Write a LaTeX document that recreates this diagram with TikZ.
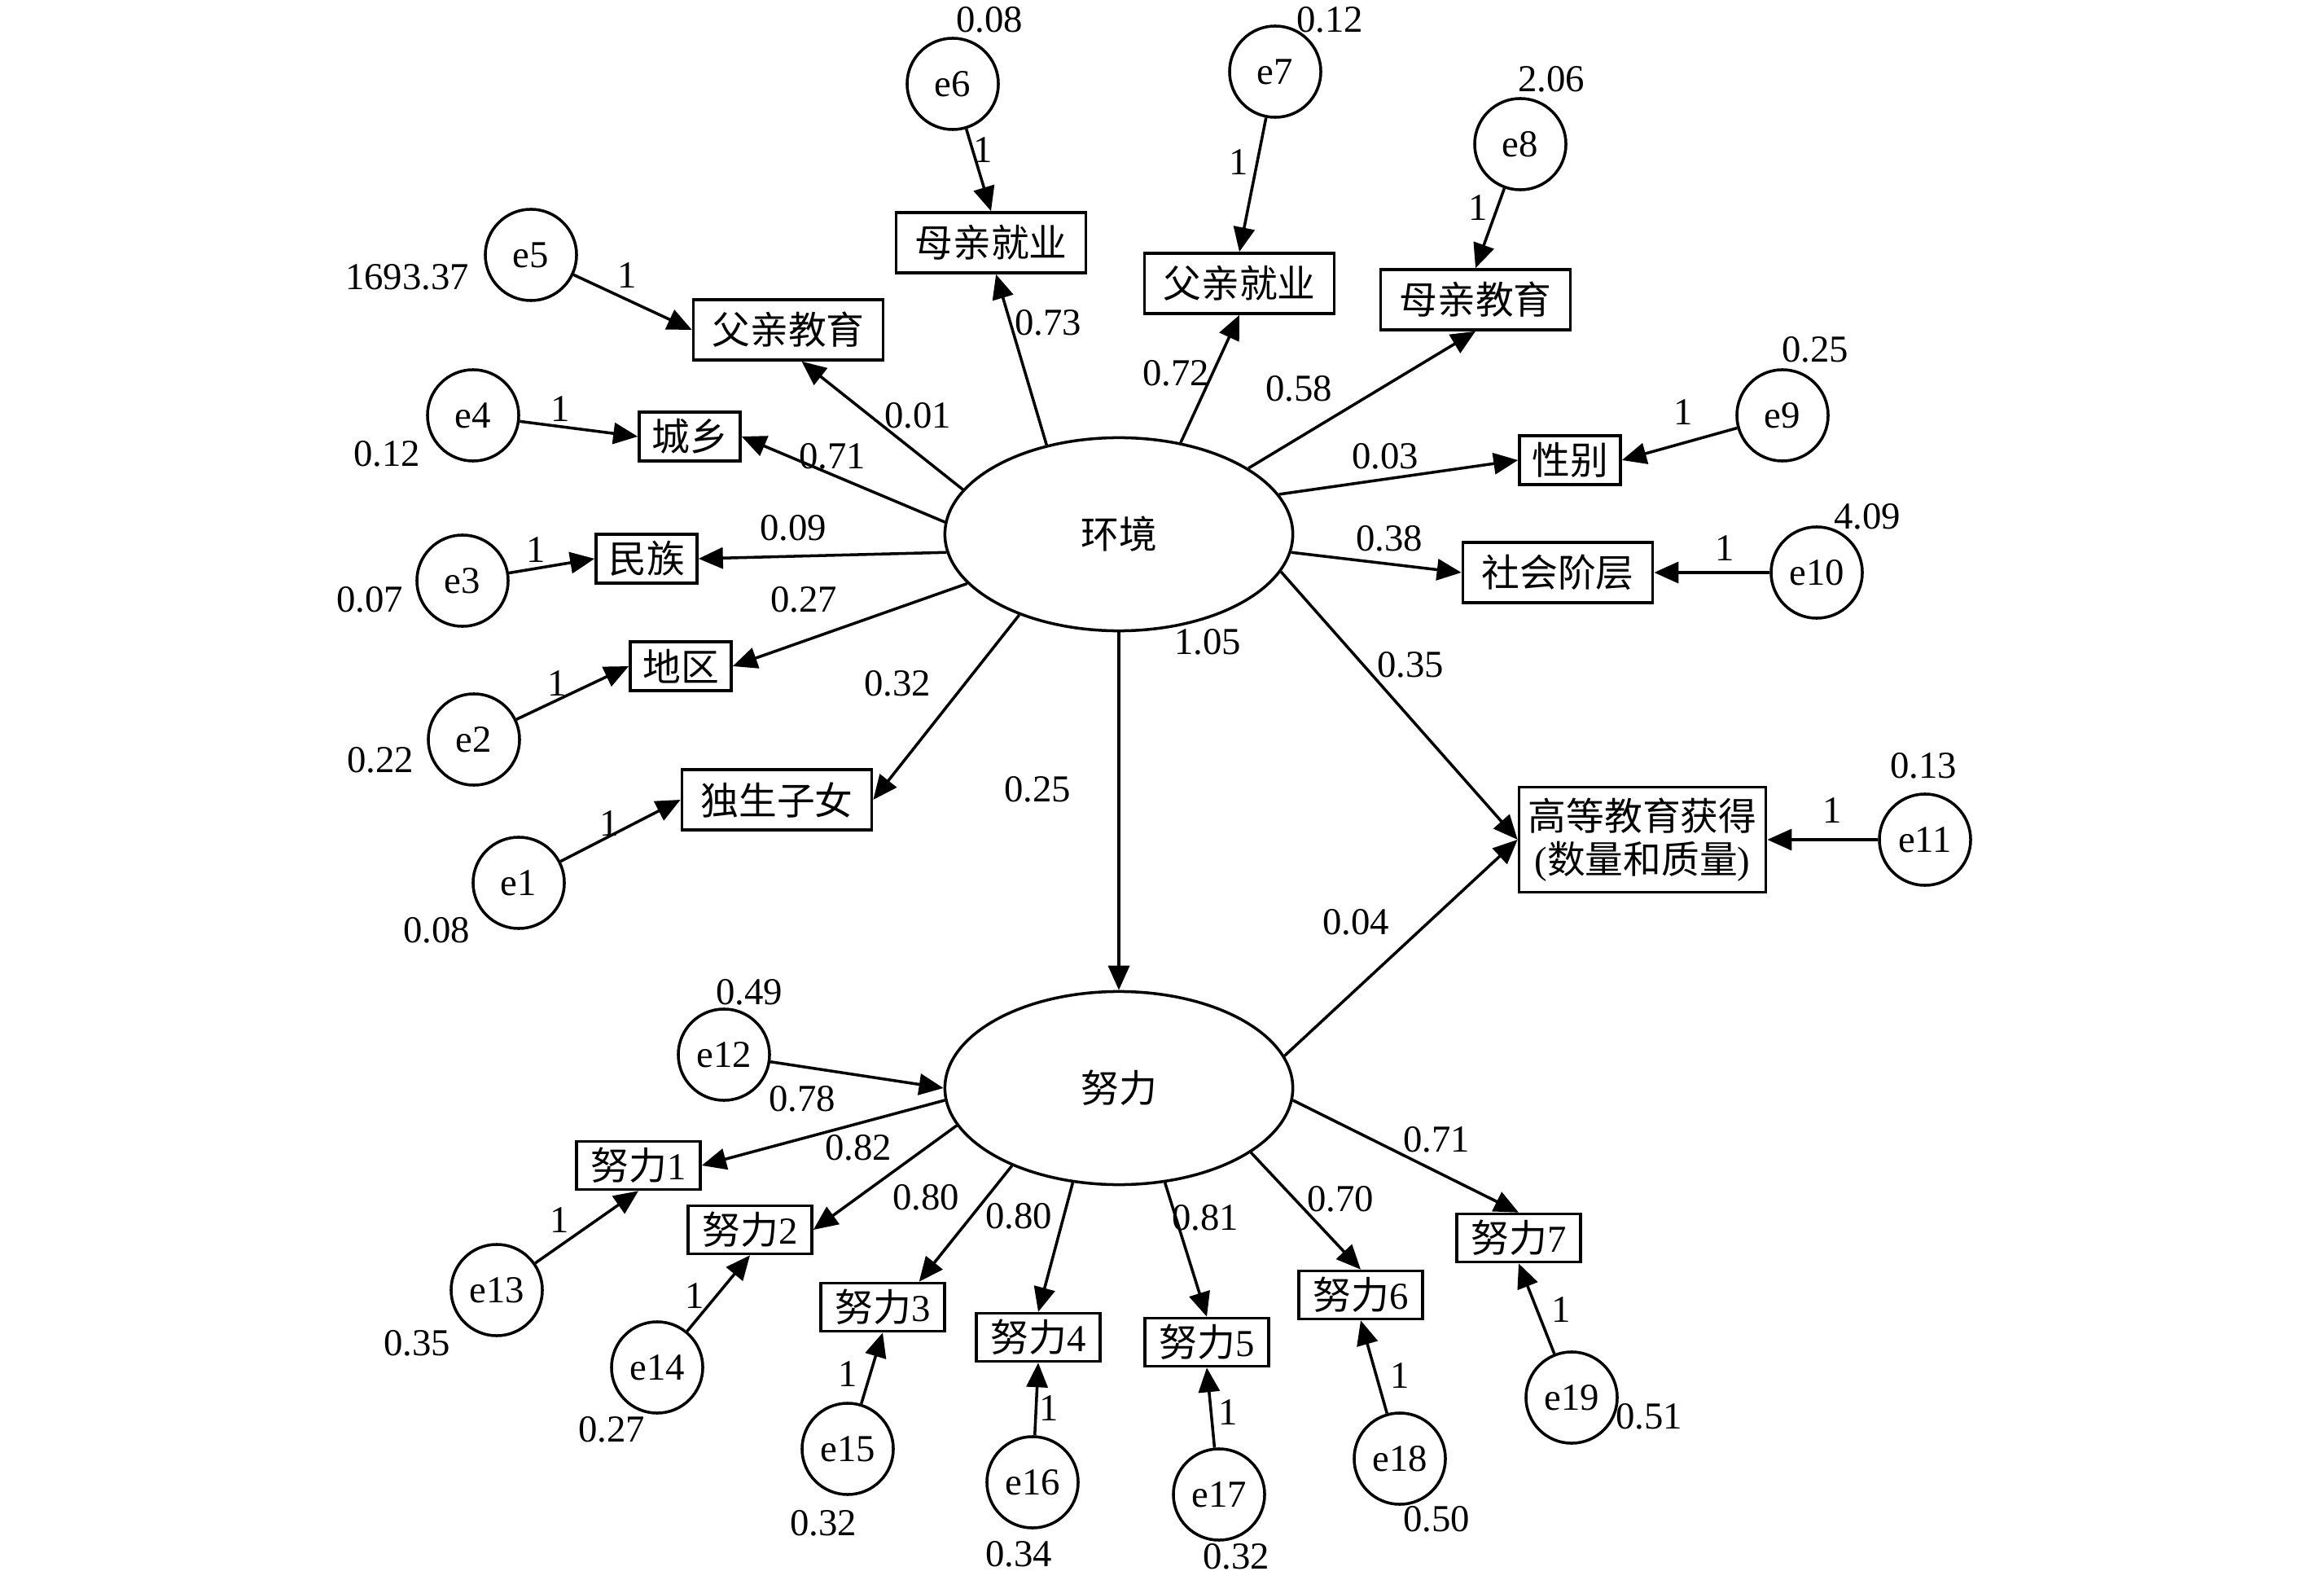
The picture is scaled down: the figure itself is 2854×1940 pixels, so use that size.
\documentclass[tikz,border=0pt]{standalone}
\usepackage{fontspec}
\setmainfont{Liberation Serif}
\newfontfamily\cjk{Noto Sans CJK SC}
\usepackage{tikz}
\usetikzlibrary{arrows.meta,shapes.geometric}
\newcommand{\fs}{\fontsize{13.3}{15}\selectfont}

\tikzset{
	latent/.style={draw, ellipse, line width=1pt, minimum width=4.27cm, minimum height=2.37cm, inner sep=0pt, font=\fs\cjk},
	errc/.style={draw, circle, line width=1pt, minimum size=1.12cm, inner sep=0pt, font=\fs},
	bigbox/.style={draw, rectangle, line width=1pt, minimum width=2.33cm, minimum height=0.74cm, inner sep=0pt, font=\fs\cjk},
	smallbox/.style={bigbox, minimum width=1.24cm, minimum height=0.6cm},
	effbox/.style={bigbox, minimum width=1.52cm, minimum height=0.59cm, font=\fs},
	num/.style={inner sep=0pt, font=\fs},
	arr/.style={line width=1pt, -{Triangle[length=3mm, width=2.6mm]}},
}

\begin{document}
\begin{tikzpicture}[x=0.01cm, y=-0.01cm]
	\useasboundingbox (0,0) rectangle (2854,1940);
	% Define nodes
	\node[latent] (env) at (1374,656) {环境};
	\node[latent] (eff) at (1374,1336) {努力};
	% Observed
	\node[bigbox] (fe) at (968,405) {父亲教育};
	\node[bigbox] (mj) at (1217,298) {母亲就业};
	\node[smallbox] (cx) at (847,536) {城乡};
	\node[smallbox] (mz) at (794,686) {民族};
	\node[smallbox] (dq) at (836,818) {地区};
	\node[bigbox] (dz) at (954,982) {独生子女};
	\node[bigbox] (fj) at (1522,348) {父亲就业};
	\node[bigbox] (me) at (1812,368) {母亲教育};
	\node[smallbox] (xb) at (1928,565) {性别};
	\node[bigbox] (sh) at (1913,703) {社会阶层};
	\node[bigbox, minimum width=3.03cm, minimum height=1.29cm, align=center, font=\fs] (gd) at (2017,1031) {{\cjk 高等教育获得}\\({\cjk 数量和质量})};
	\node[effbox] (w1) at (784,1431) {{\cjk 努力}1};
	\node[effbox] (w2) at (921,1510) {{\cjk 努力}2};
	\node[effbox] (w3) at (1084,1605) {{\cjk 努力}3};
	\node[effbox] (w4) at (1275,1642) {{\cjk 努力}4};
	\node[effbox] (w5) at (1482,1648) {{\cjk 努力}5};
	\node[effbox] (w6) at (1671,1590) {{\cjk 努力}6};
	\node[effbox] (w7) at (1865,1520) {{\cjk 努力}7};
	% Errors
	\node[errc] (e1) at (637,1084) {e1};
	\node[errc] (e2) at (582,908) {e2};
	\node[errc] (e3) at (568,713) {e3};
	\node[errc] (e4) at (581,510) {e4};
	\node[errc] (e5) at (652,313) {e5};
	\node[errc] (e6) at (1170,103) {e6};
	\node[errc] (e7) at (1566,88) {e7};
	\node[errc] (e8) at (1867,177) {e8};
	\node[errc] (e9) at (2189,510) {e9};
	\node[errc] (e10) at (2231,703) {e10};
	\node[errc] (e11) at (2364,1031) {e11};
	\node[errc] (e12) at (889,1295) {e12};
	\node[errc] (e13) at (610,1584) {e13};
	\node[errc] (e14) at (807,1679) {e14};
	\node[errc] (e15) at (1041,1779) {e15};
	\node[errc] (e16) at (1268,1820) {e16};
	\node[errc] (e17) at (1497,1835) {e17};
	\node[errc] (e18) at (1719,1791) {e18};
	\node[errc] (e19) at (1930,1716) {e19};
	% Variances
	\node[num] (v1) at (536,1142) {0.08};
	\node[num] (v2) at (467,933) {0.22};
	\node[num] (v3) at (454,736) {0.07};
	\node[num] (v4) at (475,557) {0.12};
	\node[num] (v5) at (500,340) {1693.37};
	\node[num] (v6) at (1215,24) {0.08};
	\node[num] (v7) at (1633,24) {0.12};
	\node[num] (v8) at (1905,97) {2.06};
	\node[num] (v9) at (2229,429) {0.25};
	\node[num] (v10) at (2293,634) {4.09};
	\node[num] (v11) at (2362,940) {0.13};
	\node[num] (v12) at (920,1218) {0.49};
	\node[num] (v13) at (512,1649) {0.35};
	\node[num] (v14) at (751,1755) {0.27};
	\node[num] (v15) at (1011,1870) {0.32};
	\node[num] (v16) at (1251,1908) {0.34};
	\node[num] (v17) at (1518,1911) {0.32};
	\node[num] (v18) at (1764,1865) {0.50};
	\node[num] (v19) at (2025,1739) {0.51};
	\node[num] (venv) at (1483,788) {1.05};
	% Fixed loadings
	\node[num] (f1) at (748,1011) {1};
	\node[num] (f2) at (684,839) {1};
	\node[num] (f3) at (658,675) {1};
	\node[num] (f4) at (688,502) {1};
	\node[num] (f5) at (770,338) {1};
	\node[num] (f6) at (1207,184) {1};
	\node[num] (f7) at (1521,199) {1};
	\node[num] (f8) at (1815,255) {1};
	\node[num] (f9) at (2067,506) {1};
	\node[num] (f10) at (2118,673) {1};
	\node[num] (f11) at (2250,995) {1};
	\node[num] (f13) at (687,1498) {1};
	\node[num] (f14) at (853,1591) {1};
	\node[num] (f15) at (1041,1687) {1};
	\node[num] (f16) at (1288,1729) {1};
	\node[num] (f17) at (1508,1734) {1};
	\node[num] (f18) at (1719,1689) {1};
	\node[num] (f19) at (1917,1608) {1};
	% Path weights
	\node[num] (pfe) at (1127,510) {0.01};
	\node[num] (pcx) at (1022,560) {0.71};
	\node[num] (pmj) at (1287,396) {0.73};
	\node[num] (pmz) at (974,648) {0.09};
	\node[num] (pdq) at (987,736) {0.27};
	\node[num] (pdz) at (1102,839) {0.32};
	\node[num] (peff) at (1274,969) {0.25};
	\node[num] (pfj) at (1444,458) {0.72};
	\node[num] (pme) at (1595,477) {0.58};
	\node[num] (pxb) at (1701,560) {0.03};
	\node[num] (psh) at (1706,661) {0.38};
	\node[num] (pgd) at (1732,816) {0.35};
	\node[num] (pgd2) at (1665,1132) {0.04};
	\node[num] (pw0) at (985,1349) {0.78};
	\node[num] (pw1) at (1054,1409) {0.82};
	\node[num] (pw2) at (1137,1470) {0.80};
	\node[num] (pw3) at (1251,1493) {0.80};
	\node[num] (pw5) at (1480,1495) {0.81};
	\node[num] (pw6) at (1646,1472) {0.70};
	\node[num] (pw7) at (1764,1399) {0.71};
	% Edges from environment
	\draw[arr] (env.164) -- (fe.293);
	\draw[arr] (env.129) -- (mj.-81);
	\draw[arr] (env.176) -- (cx.east);
	\draw[arr] (env.186) -- (mz.east);
	\draw[arr] (env.198) -- (dq.east);
	\draw[arr] (env.219) -- (dz.east);
	\draw[arr] (env.56) -- (fj.south);
	\draw[arr] (env.27) -- (me.south);
	\draw[arr] (env.14) -- (xb.west);
	\draw[arr] (env.354) -- (sh.west);
	\draw[arr] (env.347) -- (gd.west);
	\draw[arr] (env.south) -- (eff.north);
	% Edges from effort
	\draw[arr] (eff.11) -- (gd.west);
	\draw[arr] (eff.184) -- (w1.east);
	\draw[arr] (eff.193) -- (w2.east);
	\draw[arr] (eff.216) -- (w3.35);
	\draw[arr] (eff.244) -- (w4.north);
	\draw[arr] (eff.296) -- (w5.north);
	\draw[arr] (eff.334) -- (w6.north);
	\draw[arr] (eff.356) -- (w7.north);
	% Error terms
	\draw[arr] (e1) -- (dz.west);
	\draw[arr] (e2) -- (dq.west);
	\draw[arr] (e3) -- (mz.west);
	\draw[arr] (e4) -- (cx.west);
	\draw[arr] (e5) -- (fe.west);
	\draw[arr] (e6) -- (mj.north);
	\draw[arr] (e7) -- (fj.north);
	\draw[arr] (e8) -- (me.north);
	\draw[arr] (e9) -- (xb.east);
	\draw[arr] (e10) -- (sh.east);
	\draw[arr] (e11) -- (gd.east);
	\draw[arr] (e12) -- (eff.west);
	\draw[arr] (e13) -- (w1.south);
	\draw[arr] (e14) -- (w2.south);
	\draw[arr] (e15) -- (w3.south);
	\draw[arr] (e16) -- (w4.south);
	\draw[arr] (e17) -- (w5.south);
	\draw[arr] (e18) -- (w6.south);
	\draw[arr] (e19) -- (w7.south);
\end{tikzpicture}
\end{document}
